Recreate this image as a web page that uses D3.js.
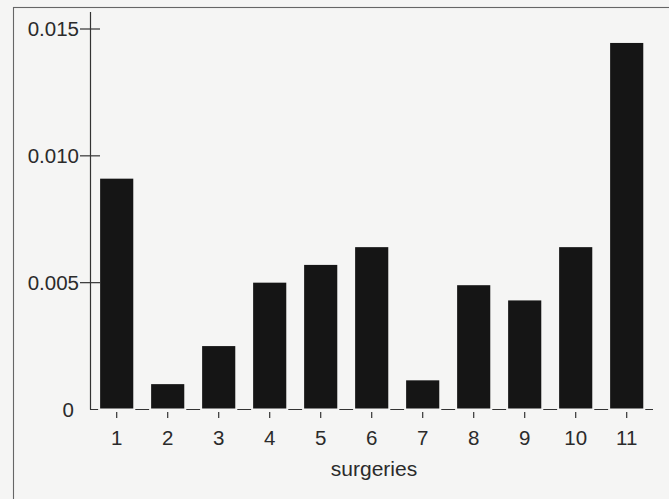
<!DOCTYPE html>
<html>
<head>
<meta charset="utf-8">
<script src="https://cdn.jsdelivr.net/npm/d3@7/dist/d3.min.js"></script>
<style>
  html, body { margin: 0; padding: 0; background: #f5f5f4; }
  svg { display: block; }
  text { font-family: "Liberation Sans", Arial, sans-serif; fill: #2b2b2b; }
</style>
</head>
<body>
<svg id="chart" width="669" height="499"></svg>
<script>
const categories = ["1","2","3","4","5","6","7","8","9","10","11"];
const values = [0.0091, 0.0010, 0.0025, 0.0050, 0.0057, 0.0064, 0.00115, 0.0049, 0.0043, 0.0064, 0.01445];
const yTicks = [0, 0.005, 0.010, 0.015];
const yTickLabels = ["0", "0.005", "0.010", "0.015"];
const xTitle = "surgeries";

const bg = "#f5f5f4";
const svg = d3.select("#chart");

// outer frame (left and top edges visible)
svg.append("rect")
  .attr("x", 13.5).attr("y", 7.5)
  .attr("width", 700).attr("height", 520)
  .attr("fill", bg).attr("stroke", "#666").attr("stroke-width", 1.1);

const x = d3.scaleBand().domain(categories).range([91.2, 652.2]).paddingInner(0.35).paddingOuter(0.175);
const y = d3.scaleLinear().domain([0, 0.015]).range([409.5, 29]);

// y axis line
svg.append("line")
  .attr("x1", 90.5).attr("x2", 90.5).attr("y1", 12).attr("y2", y(0))
  .attr("stroke", "#333").attr("stroke-width", 1.2);

// y ticks (crossing the axis), skip 0
svg.selectAll(".ytick").data(yTicks.filter(d => d > 0)).enter().append("line")
  .attr("x1", 80).attr("x2", 100)
  .attr("y1", d => y(d)).attr("y2", d => y(d))
  .attr("stroke", "#333").attr("stroke-width", 1.2);

svg.selectAll(".ylab").data(yTicks).enter().append("text")
  .attr("x", (d, i) => i === 0 ? 74 : 79)
  .attr("y", d => y(d))
  .attr("dy", "0.36em")
  .attr("text-anchor", "end")
  .attr("font-size", 20.5)
  .text((d, i) => yTickLabels[i]);

// baseline
svg.append("line")
  .attr("x1", 90).attr("x2", 653).attr("y1", y(0)).attr("y2", y(0))
  .attr("stroke", "#333").attr("stroke-width", 1.2);

// gaps around bars on the baseline
svg.selectAll(".gap").data(categories).enter().append("rect")
  .attr("x", d => x(d) - 2)
  .attr("width", x.bandwidth() + 4)
  .attr("y", y(0) - 3).attr("height", 5)
  .attr("fill", bg);

// bars
svg.selectAll(".bar").data(values).enter().append("rect")
  .attr("x", (d, i) => x(categories[i]))
  .attr("width", x.bandwidth())
  .attr("y", d => y(d))
  .attr("height", d => y(0) - y(d) - 1)
  .attr("fill", "#151515");

// x ticks
svg.selectAll(".xtick").data(categories).enter().append("line")
  .attr("x1", d => x(d) + x.bandwidth() / 2).attr("x2", d => x(d) + x.bandwidth() / 2)
  .attr("y1", 412).attr("y2", 418)
  .attr("stroke", "#333").attr("stroke-width", 1.2);

svg.selectAll(".xlab").data(categories).enter().append("text")
  .attr("x", d => x(d) + x.bandwidth() / 2)
  .attr("y", 444.5)
  .attr("text-anchor", "middle")
  .attr("font-size", 20.5)
  .text(d => d);

svg.append("text")
  .attr("x", 374).attr("y", 475.5)
  .attr("text-anchor", "middle")
  .attr("font-size", 21)
  .text(xTitle);
</script>
</body>
</html>
